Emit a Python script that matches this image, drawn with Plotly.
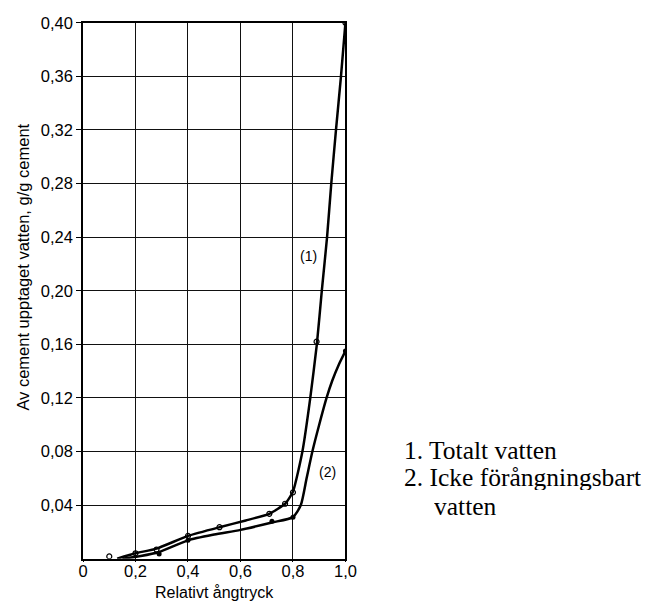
import plotly.graph_objects as go

# Relative vapour pressure vs. water taken up by cement (g/g cement)
# Curve (1): total water — smooth curve and measured points
total_curve_x = [0.13, 0.20, 0.28, 0.40, 0.52, 0.62, 0.71, 0.77, 0.80, 0.836, 0.866, 0.891, 0.910, 0.930, 0.946, 0.964, 0.983, 1.00]
total_curve_y = [0.000, 0.004, 0.0075, 0.017, 0.0235, 0.0285, 0.0335, 0.041, 0.050, 0.08, 0.12, 0.16, 0.20, 0.24, 0.28, 0.32, 0.36, 0.40]
total_pts_x = [0.10, 0.20, 0.28, 0.40, 0.52, 0.71, 0.77, 0.80, 0.89, 1.00]
total_pts_y = [0.0017, 0.004, 0.0068, 0.017, 0.0235, 0.0335, 0.041, 0.0495, 0.162, 0.40]

# Curve (2): non-evaporable water
nonevap_curve_x = [0.15, 0.22, 0.29, 0.40, 0.50, 0.60, 0.72, 0.80, 0.83, 0.852, 0.874, 0.90, 0.928, 0.950, 0.975, 1.00]
nonevap_curve_y = [0.000, 0.002, 0.005, 0.0137, 0.018, 0.0215, 0.027, 0.031, 0.040, 0.060, 0.080, 0.100, 0.120, 0.133, 0.145, 0.155]
nonevap_pts_x = [0.29, 0.40, 0.72, 0.80, 1.00]
nonevap_pts_y = [0.0035, 0.0137, 0.028, 0.031, 0.155]

x_ticks = [0, 0.2, 0.4, 0.6, 0.8, 1.0]
x_ticktext = ["0", "0,2", "0,4", "0,6", "0,8", "1,0"]
y_ticks = [0.04, 0.08, 0.12, 0.16, 0.20, 0.24, 0.28, 0.32, 0.36, 0.40]
y_ticktext = ["0,04", "0,08", "0,12", "0,16", "0,20", "0,24", "0,28", "0,32", "0,36", "0,40"]

legend_lines = ["1. Totalt vatten", "2. Icke förångningsbart", "vatten"]

W, H = 652, 603
# plot box in pixels
L, R, T, B = 80, 349, 14, 558

fig = go.Figure()
fig.add_trace(go.Scatter(x=total_curve_x, y=total_curve_y, mode="lines",
                         line=dict(color="black", width=2.5, shape="spline", smoothing=0.5),
                         hoverinfo="skip"))
fig.add_trace(go.Scatter(x=nonevap_curve_x, y=nonevap_curve_y, mode="lines",
                         line=dict(color="black", width=2.5, shape="spline", smoothing=0.6),
                         hoverinfo="skip"))
fig.add_trace(go.Scatter(x=total_pts_x, y=total_pts_y, mode="markers",
                         marker=dict(symbol="circle-open", size=5, color="black", line=dict(width=1.2))))
fig.add_trace(go.Scatter(x=nonevap_pts_x, y=nonevap_pts_y, mode="markers",
                         marker=dict(symbol="circle", size=5, color="black")))

tick_font = dict(family="Liberation Sans, Arial, sans-serif", size=16.5, color="black")

fig.update_xaxes(domain=[L / W, R / W], range=[0, 1.0], tickvals=x_ticks, ticktext=x_ticktext,
                 showgrid=True, gridcolor="#111", gridwidth=1,
                 showline=True, linecolor="black", linewidth=1.6, mirror=True,
                 ticks="outside", ticklen=2, tickcolor="black", tickfont=tick_font,
                 ticklabelstandoff=-5,
                 zeroline=False, fixedrange=True)
fig.update_yaxes(domain=[(H - B) / H, (H - T) / H], range=[0, 0.40], tickvals=y_ticks, ticktext=y_ticktext,
                 showgrid=True, gridcolor="#111", gridwidth=1,
                 showline=True, linecolor="black", linewidth=1.6, mirror=True,
                 ticks="outside", ticklen=5, tickcolor="black", tickfont=tick_font,
                 zeroline=False, fixedrange=True)

annotations = [
    dict(text="(1)", x=0.86, y=0.226, xref="x", yref="y", showarrow=False,
         font=dict(family="Liberation Sans, Arial, sans-serif", size=14, color="black")),
    dict(text="(2)", x=0.93, y=0.065, xref="x", yref="y", showarrow=False,
         font=dict(family="Liberation Sans, Arial, sans-serif", size=14, color="black")),
    dict(text="Relativt ångtryck", x=215 / W, y=1 - 592 / H, xref="paper", yref="paper",
         showarrow=False, xanchor="center", yanchor="middle",
         font=dict(family="Liberation Sans, Arial, sans-serif", size=16, color="black")),
    dict(text="Av cement upptaget vatten, g/g cement", x=19 / W, y=1 - 262 / H, xref="paper", yref="paper",
         showarrow=False, textangle=-90, xanchor="center", yanchor="middle",
         font=dict(family="Liberation Sans, Arial, sans-serif", size=16.5, color="black")),
]
# Side legend: three tightly spaced serif lines
legend_pos = [(407, 448), (407, 475), (438, 505)]
for txt, (px, py) in zip(legend_lines, legend_pos):
    annotations.append(dict(text=txt, x=px / W, y=1 - py / H, xref="paper", yref="paper",
                            showarrow=False, xanchor="left", yanchor="middle", height=26,
                            font=dict(family="Liberation Serif, Times New Roman, serif", size=25.5, color="black")))

fig.update_layout(width=W, height=H, autosize=False,
                  margin=dict(l=0, r=0, t=0, b=0),
                  paper_bgcolor="white", plot_bgcolor="white",
                  showlegend=False, annotations=annotations)

fig.write_html("out.html")
